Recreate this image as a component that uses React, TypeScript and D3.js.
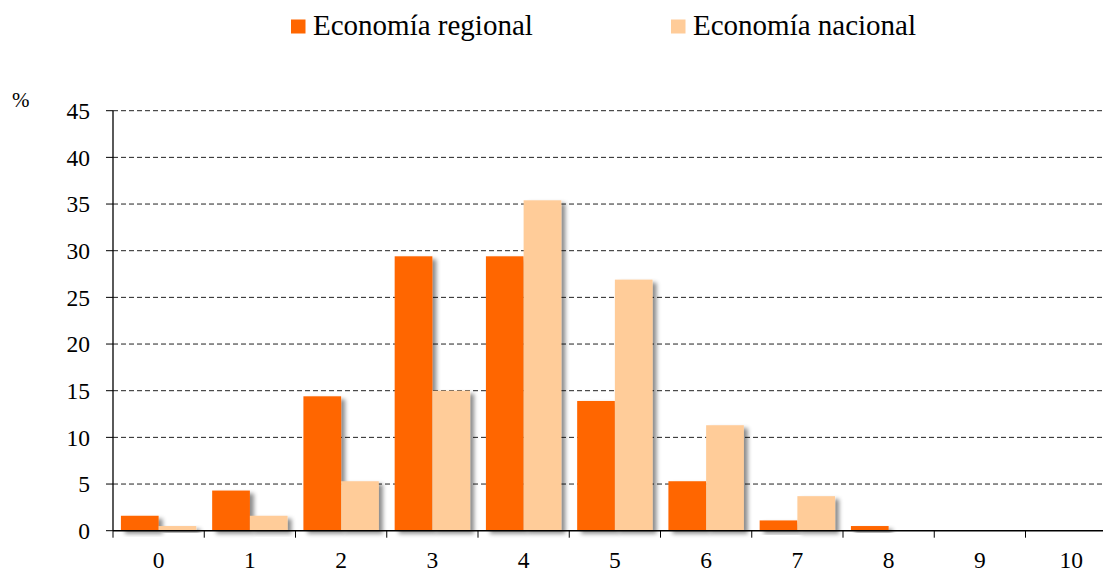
import React from "react";
import * as d3 from "d3";

const categories = ["0", "1", "2", "3", "4", "5", "6", "7", "8", "9", "10"];
const regional = [1.6, 4.3, 14.4, 29.4, 29.4, 13.9, 5.3, 1.1, 0.5, 0, 0];
const nacional = [0.5, 1.6, 5.3, 15.0, 35.4, 26.9, 11.3, 3.7, 0, 0, 0];
const seriesNames = ["Economía regional", "Economía nacional"];
const seriesColors = ["#FF6600", "#FFCC99"];
const yTicks = [0, 5, 10, 15, 20, 25, 30, 35, 40, 45];

const W = 1103;
const H = 572;
const left = 113;
const step = 91.25;
const y0 = 530.7;
const yTop = 110.7;

export default function App() {
  const x = d3
    .scaleBand<string>()
    .domain(categories)
    .range([left, left + step * categories.length])
    .padding(0);
  const xs = d3
    .scaleBand<string>()
    .domain(seriesNames)
    .range([0, x.bandwidth()])
    .paddingInner(0)
    .paddingOuter(0.21);
  const y = d3.scaleLinear().domain([0, 45]).range([y0, yTop]);
  const data = [regional, nacional];
  const font = "'Liberation Serif', 'Times New Roman', 'DejaVu Serif', serif";

  return (
    <svg
      width={W}
      height={H}
      style={{ position: "absolute", left: 0, top: 0, background: "#fff", fontFamily: font }}
    >
      <defs>
        <filter id="sh" x="-20%" y="-20%" width="160%" height="160%">
          <feDropShadow dx="4" dy="3" stdDeviation="2" floodColor="#000" floodOpacity="0.45" />
        </filter>
      </defs>
      {/* legend */}
      <g>
        <rect x={291} y={19.5} width={14.5} height={14} fill={seriesColors[0]} />
        <text x={313} y={35} fontSize={29} fill="#000" style={{ fontFamily: font }}>
          {seriesNames[0]}
        </text>
        <rect x={671} y={19.5} width={14.5} height={14} fill={seriesColors[1]} />
        <text x={693} y={35} fontSize={29} fill="#000" style={{ fontFamily: font }}>
          {seriesNames[1]}
        </text>
      </g>
      <text x={12} y={106.7} fontSize={21} fill="#000" style={{ fontFamily: font }}>
        %
      </text>
      {/* gridlines */}
      {yTicks
        .filter((t) => t > 0)
        .map((t) => (
          <line
            key={"g" + t}
            x1={left}
            x2={W}
            y1={y(t)}
            y2={y(t)}
            stroke="#222"
            strokeWidth={1}
            strokeDasharray="5,3"
          />
        ))}
      {/* y ticks */}
      {yTicks.map((t) => (
        <g key={"yt" + t}>
          <line x1={106} x2={left} y1={y(t)} y2={y(t)} stroke="#000" />
          <text
            x={90}
            y={y(t)}
            dy="0.35em"
            textAnchor="end"
            fontSize={23.5}
            fill="#000"
            style={{ fontFamily: font }}
          >
            {t}
          </text>
        </g>
      ))}
      {/* bars */}
      {categories.map((c, i) =>
        data.map((s, k) =>
          s[i] > 0 ? (
            <rect
              key={c + "-" + k}
              x={(x(c) as number) + (xs(seriesNames[k]) as number)}
              y={y(s[i])}
              width={xs.bandwidth()}
              height={y(0) - y(s[i])}
              fill={seriesColors[k]}
              filter="url(#sh)"
            />
          ) : null
        )
      )}
      {/* axes */}
      <line x1={left} x2={left} y1={yTop} y2={y0} stroke="#000" strokeWidth={1.3} />
      <line x1={left} x2={W} y1={y0} y2={y0} stroke="#000" strokeWidth={1.5} />
      {categories.map((c) => (
        <line
          key={"xt" + c}
          x1={x(c) as number}
          x2={x(c) as number}
          y1={y0}
          y2={y0 + 7}
          stroke="#000"
        />
      ))}
      {categories.map((c) => (
        <text
          key={"xl" + c}
          x={(x(c) as number) + x.bandwidth() / 2}
          y={568}
          textAnchor="middle"
          fontSize={23.5}
          fill="#000"
          style={{ fontFamily: font }}
        >
          {c}
        </text>
      ))}
    </svg>
  );
}
